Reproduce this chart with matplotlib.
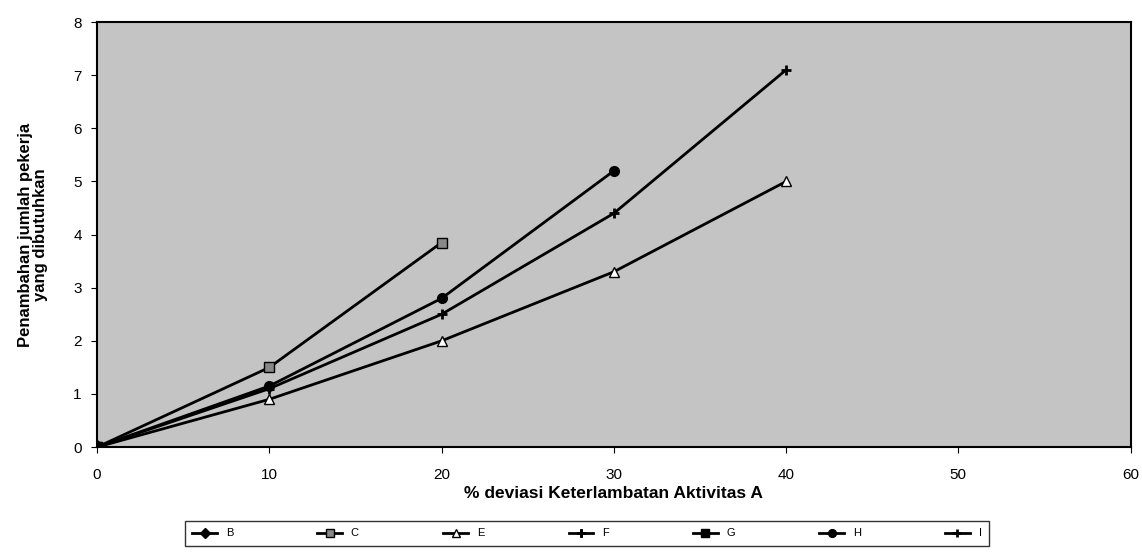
import matplotlib
matplotlib.use("Agg")
import matplotlib.pyplot as plt

plt.rcParams['font.family'] = ['Liberation Sans', 'DejaVu Sans']

x_b = [0]
y_b = [0]
x_c = [0, 10, 20]
y_c = [0, 1.5, 3.85]
x_e = [0, 10, 20, 30, 40]
y_e = [0, 0.9, 2.0, 3.3, 5.0]
x_f = [0]
y_f = [0]
x_g = [0]
y_g = [0]
x_h = [0, 10, 20, 30]
y_h = [0, 1.15, 2.8, 5.2]
x_i = [0, 10, 20, 30, 40]
y_i = [0, 1.1, 2.5, 4.4, 7.1]

fig = plt.figure(figsize=(11.42, 5.52), dpi=100)
ax = fig.add_axes([0.085, 0.19, 0.905, 0.77])
ax.set_facecolor('#c4c4c4')

kw = dict(color='black', lw=2.0, markersize=7)
ax.plot(x_b, y_b, marker='D', label='B', **kw)
ax.plot(x_c, y_c, marker='s', markerfacecolor='#888888', markeredgecolor='black', label='C', **kw)
ax.plot(x_e, y_e, marker='^', markerfacecolor='white', markeredgecolor='black', label='E', **kw)
ax.plot(x_f, y_f, marker=(4, 2, 0), markeredgewidth=2, label='F', **kw)
ax.plot(x_g, y_g, marker='s', label='G', **kw)
ax.plot(x_h, y_h, marker='o', label='H', **kw)
ax.plot(x_i, y_i, marker='+', markeredgewidth=2, label='I', **kw)

ax.set_xlim(0, 60)
ax.set_ylim(0, 8)
ax.set_xticks([0, 10, 20, 30, 40, 50, 60])
ax.set_yticks(range(0, 9))
ax.tick_params(labelsize=11, direction='out', length=4)
ax.tick_params(axis='x', pad=11)
ax.tick_params(axis='y', pad=7)
ax.set_xlabel('% deviasi Keterlambatan Aktivitas A', fontsize=12.5, fontweight='bold', labelpad=3)
ax.set_ylabel('Penambahan jumlah pekerja\nyang dibutuhkan', fontsize=12, fontweight='bold',
              labelpad=18, linespacing=1.0)
for s in ax.spines.values():
    s.set_linewidth(1.5)

leg = ax.legend(loc='upper center', bbox_to_anchor=(0.474, -0.16), ncol=7,
                frameon=True, fancybox=False, edgecolor='black', fontsize=8,
                handlelength=2.2, columnspacing=7.6, borderpad=0.7, markerscale=0.8)
leg.get_frame().set_linewidth(1.0)

fig.savefig('out.png', dpi=100, facecolor='white')
